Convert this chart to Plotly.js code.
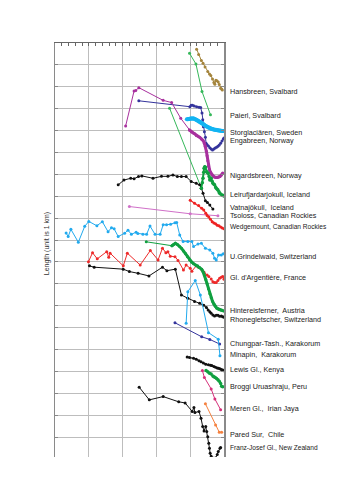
<!DOCTYPE html>
<html>
<head>
<meta charset="utf-8">
<script src="https://cdn.plot.ly/plotly-3.0.1.min.js"></script>
<style>html,body{margin:0;padding:0;background:#fff;}#chart{width:353px;height:500px;}</style>
</head>
<body>
<div id="chart"></div>
<script>
// ---- Data (year, plotted length with stacking offset, unit 1 km) ----
const hansbreenX = [1919,1925,1933,1938,1944,1952,1957,1961,1966,1970,1973,1976,1979,1983,1986,1990,1993,1995];
const hansbreenY = [17.72,17.48,17.2,17.07,16.9,16.7,16.58,16.52,16.35,16.2,16.12,16.3,16.28,16.22,16.1,15.93,15.9,15.85];

const paierlX = [1898,1917,1935,1960];
const paierlY = [17.53,17.04,15.78,14.72];

const storglaX = [1890,1895,1900,1905,1910,1915,1920,1925,1930,1935,1940,1945,1950,1955,1960,1965,1970,1975,1980,1985,1990,1995,2000];
const storglaY = [14.52,14.53,14.55,14.56,14.55,14.52,14.48,14.44,14.39,14.34,14.28,14.22,14.17,14.13,14.10,14.07,14.05,14.03,14.01,14.0,13.99,13.98,13.98];

const engaX = [1748,1899,1903,1907,1912,1919,1926,1931,1935,1937,1939,1942,1945,1947,1950,1954,1958,1962,1966,1970,1974,1978,1982,1986,1990,1994,1998,2000];
const engaY = [15.36,15.09,15.16,15.16,15.12,15.09,15.06,15.05,14.80,14.50,14.18,13.95,13.70,13.42,13.35,13.30,13.22,13.16,13.11,13.16,13.20,13.24,13.28,13.34,13.42,13.52,13.62,13.66];

const nigardsEarlyX = [1709,1734,1739,1748,1820,1845,1872,1898];
const nigardsEarlyY = [14.21,15.81,15.83,15.96,15.38,15.28,14.56,14.03];
const nigardsX = [1898,1903,1908,1913,1918,1923,1928,1933,1938,1942,1945,1948,1950,1952,1954,1957,1960,1964,1968,1972,1976,1980,1984,1988,1992,1996];
const nigardsY = [14.03,13.95,13.90,13.85,13.78,13.74,13.70,13.62,13.55,13.42,13.28,13.05,12.85,12.62,12.38,12.22,12.10,11.98,11.92,11.88,11.86,11.86,11.88,11.90,11.97,12.06];

const leiruEarlyX = [1839,1933];
const leiruEarlyY = [15.02,11.37];
const leiruX = [1933,1936,1938,1940,1941,1943,1945,1948,1950,1953,1956,1958,1960,1962,1965,1967,1970,1972,1975,1977,1980,1982,1985,1987,1990,1994,1997,2000];
const leiruY = [11.37,11.62,11.82,12.10,12.28,12.35,12.32,12.12,12.10,12.05,11.90,11.74,11.80,11.82,11.68,11.59,11.55,11.52,11.42,11.36,11.32,11.29,11.20,11.14,11.10,11.06,11.03,11.01];

const vatnaX = [1687,1704,1724,1734,1747,1757,1790,1815,1834,1849,1862,1874,1888,1903,1918,1928,1933,1938,1945,1951,1958,1967];
const vatnaY = [11.52,11.74,11.82,11.80,11.90,11.93,11.82,11.91,11.91,11.97,11.90,11.90,11.90,11.67,11.59,11.52,11.37,11.14,10.80,10.71,10.60,10.42];

const tsolossX = [1720,1900,1982];
const tsolossY = [10.53,10.20,10.11];

const wedgeX = [1900,1913,1925,1934,1940,1946,1950,1955,1960,1965,1970,1975,1980,1985,1990,1995,2000];
const wedgeY = [10.82,10.68,10.58,10.45,10.37,10.22,10.12,10.05,9.95,9.84,9.78,9.74,9.68,9.65,9.60,9.55,9.51];

const grindelX = [1533,1539,1547,1569,1588,1600,1624,1640,1657,1667,1675,1687,1706,1716,1726,1740,1745,1760,1771,1781,1796,1811,1820,1830,1842,1855,1860,1869,1879,1893,1905,1910,1923,1933,1945,1958,1967,1972,1977,1984,1992,1998];
const grindelY = [9.32,9.16,9.49,8.90,9.63,9.85,9.65,9.84,9.38,9.56,9.51,9.16,9.31,9.45,9.26,9.36,9.30,9.26,9.26,9.64,9.26,9.26,9.70,9.70,9.72,9.79,9.80,9.23,8.93,8.93,8.93,8.70,8.82,8.85,8.62,8.55,8.40,8.17,8.09,8.32,8.32,8.37];

const argentX = [1599,1611,1625,1653,1659,1663,1702,1714,1752,1782,1805,1818,1828,1834,1841,1855,1864,1880,1888,1900,1905,1918,1925,1935,1941,1950,1955,1962,1967,1972,1977,1982,1987,1992,1996,2000];
const argentY = [8.01,8.42,8.14,8.47,8.21,8.40,7.82,8.40,7.86,8.52,8.09,8.63,8.42,8.47,8.26,8.24,8.07,7.63,7.86,7.71,7.58,7.82,7.76,7.63,7.53,7.40,7.33,7.22,7.10,7.06,7.06,7.15,7.26,7.30,7.33,7.21];

const hintEarlyX = [1770,1846];
const hintEarlyY = [8.92,8.74];
const hintX = [1846,1851,1856,1862,1868,1874,1880,1886,1892,1898,1904,1910,1916,1922,1928,1934,1938,1942,1946,1950,1954,1958,1962,1966,1970,1974,1978,1982,1986,1990,1994,2000];
const hintY = [8.74,8.80,8.85,8.80,8.72,8.63,8.50,8.38,8.24,8.10,8.00,7.92,7.86,7.83,7.75,7.67,7.55,7.40,7.20,7.00,6.78,6.55,6.36,6.20,6.08,5.98,5.90,5.86,5.83,5.80,5.79,5.76];

const rhoneX = [1602,1616,1702,1720,1746,1778,1818,1831,1856,1874,1893,1913,1928,1940,1948,1953,1958,1962,1967,1972,1977,1982,1987,1992,1996,2000];
const rhoneY = [7.82,7.76,7.67,7.56,7.48,7.36,7.76,7.60,7.67,6.49,6.34,6.19,6.11,6.02,5.92,5.81,5.72,5.66,5.58,5.53,5.56,5.57,5.52,5.53,5.50,5.47];

const chungX = [1855,1934,1958,1987];
const chungY = [5.22,4.58,4.46,4.25];

const minapinX = [1888,1893,1915,1930,1954,1983,1988];
const minapinY = [5.20,6.64,7.15,6.49,4.77,4.47,3.72];

const lewisX = [1891,1898,1910,1918,1926,1932,1939,1946,1954,1960,1964,1970,1975,1980,1984,1988,1992,1996,2000];
const lewisY = [3.66,3.64,3.60,3.56,3.49,3.44,3.38,3.33,3.30,3.28,3.27,3.22,3.19,3.16,3.14,3.12,3.09,3.06,3.03];

const broggiX = [1947,1952,1957,1962,1967,1970,1974,1978,1982,1986,1990,1993,1996];
const broggiY = [3.04,2.98,2.92,2.88,2.79,2.75,2.72,2.68,2.62,2.55,2.45,2.32,2.30];

const merenX = [1936,1942,1962,1973,1990];
const merenY = [3.04,2.72,2.20,1.74,1.25];

const paredX = [1945,1975,1986,1993];
const paredY = [1.52,0.55,0.22,0.22];

const franzX = [1749,1779,1820,1866,1885,1906,1911,1914,1926,1932,1937,1941,1946,1949,1952,1955,1957,1959,1962,1966,1975,1980,1983,1988,1990];
const franzY = [2.28,1.70,1.85,1.61,1.56,1.17,1.35,1.12,1.17,0.86,0.48,0.28,0.48,0.25,0.02,-0.28,-0.51,-0.74,-0.88,-0.95,-0.95,-0.80,-0.66,-0.51,-0.48];

// ---- Labels ----
const labelTexts = ["Hansbreen, Svalbard","Paierl, Svalbard","Storglaciären, Sweden","Engabreen, Norway","Nigardsbreen, Norway","Leirufjardarjokull, Iceland","Vatnajökull,  Iceland","Tsoloss, Canadian Rockies","Wedgemount, Canadian Rockies","U.Grindelwald, Switzerland","Gl. d'Argentière, France","Hintereisferner,  Austria","Rhonegletscher, Switzerland","Chungpar-Tash., Karakorum","Minapin,  Karakorum","Lewis Gl., Kenya","Broggi Uruashraju, Peru","Meren Gl.,  Irian Jaya","Pared Sur,  Chile","Franz-Josef Gl., New Zealand"];
const labelY = [15.78,14.67,13.92,13.54,11.94,11.07,10.47,10.11,9.58,8.26,7.27,5.79,5.38,4.26,3.79,3.07,2.32,1.32,0.13,-0.49];
const narrowLabels = ["Wedgemount, Canadian Rockies","Franz-Josef Gl., New Zealand"];
const yTitle = "Length (unit is 1 km)";

// ---- Traces ----
function tr(x, y, color, width, msize) {
  return {x: x, y: y, type: 'scatter', mode: 'lines+markers',
    line: {color: color, width: width}, marker: {color: color, size: msize},
    hoverinfo: 'skip', showlegend: false};
}
const GREEN = '#10a040', LGREEN = '#35b85a', LBLUE = '#22aaee', NAVY = '#34349c', BLACK = '#111111';
const traces = [
  tr(hansbreenX, hansbreenY, '#a4843c', 1, 3),
  tr(paierlX, paierlY, LGREEN, 1, 3),
  tr(engaX, engaY, NAVY, 1, 3),
  tr(storglaX, storglaY, '#12b4f2', 4, 4),
  tr(nigardsEarlyX, nigardsEarlyY, '#a8309e', 1, 3),
  tr(nigardsX, nigardsY, '#a8309e', 3, 3),
  tr(leiruEarlyX, leiruEarlyY, LGREEN, 1, 3),
  tr(vatnaX, vatnaY, BLACK, 1, 3),
  tr(leiruX, leiruY, GREEN, 2, 3.5),
  tr(tsolossX, tsolossY, '#d070c8', 1, 3),
  tr(wedgeX, wedgeY, '#ee2222', 1.2, 3),
  tr(grindelX, grindelY, LBLUE, 1, 3),
  tr(argentX, argentY, '#ee2a2a', 1, 3),
  tr(rhoneX, rhoneY, BLACK, 1, 3),
  tr(hintEarlyX, hintEarlyY, GREEN, 1, 3),
  tr(hintX, hintY, GREEN, 3, 3),
  tr(chungX, chungY, NAVY, 1, 3),
  tr(minapinX, minapinY, LBLUE, 1, 3),
  tr(lewisX, lewisY, BLACK, 1.2, 3),
  tr(broggiX, broggiY, GREEN, 1.5, 3.5),
  tr(merenX, merenY, '#d6307a', 1, 3),
  tr(paredX, paredY, '#f5813f', 1, 3),
  tr(franzX, franzY, BLACK, 1, 3),
  {x: [], y: [], xaxis: 'x2', type: 'scatter', mode: 'markers', hoverinfo: 'skip', showlegend: false}
];

const FONT = 'Liberation Sans, Arial, sans-serif';
const annotations = labelTexts.map((t, i) => ({
  text: t, xref: 'paper', yref: 'y', x: 1, y: labelY[i], xshift: 4,
  xanchor: 'left', yanchor: 'middle', showarrow: false,
  font: narrowLabels.includes(t)
    ? {family: 'Liberation Sans Narrow, Liberation Sans, Arial, sans-serif', size: 6.6, color: '#222'}
    : {family: FONT, size: 7.2, color: '#222'}
}));
annotations.push({
  text: yTitle, xref: 'paper', yref: 'paper', x: -0.047, y: 0.514,
  textangle: -90, showarrow: false, xanchor: 'center', yanchor: 'middle',
  font: {family: FONT, size: 7, color: '#333'}
});

const layout = {
  width: 353, height: 500,
  margin: {l: 55, r: 129, t: 43, b: 43, pad: 0},
  paper_bgcolor: '#fff', plot_bgcolor: '#fff',
  showlegend: false,
  xaxis: {range: [1500, 2000], dtick: 100, tick0: 1500, showgrid: true, gridcolor: '#bdbdbd', gridwidth: 1,
    showticklabels: false, ticks: '', showline: false, zeroline: false, fixedrange: true},
  xaxis2: {overlaying: 'x', side: 'top', range: [1500, 2000], dtick: 20, tick0: 1500,
    ticks: 'inside', ticklen: 3, tickcolor: '#666', tickwidth: 1, showline: true, linecolor: '#666', linewidth: 1.5,
    showgrid: false, showticklabels: false, zeroline: false},
  yaxis: {range: [-0.91, 18], dtick: 1, tick0: 0, showgrid: true, gridcolor: '#bdbdbd', gridwidth: 1,
    showticklabels: false, ticks: 'inside', ticklen: 3, tickcolor: '#888', showline: true, linecolor: '#8a8a8a',
    linewidth: 1.5, mirror: 'ticks', zeroline: false, fixedrange: true},
  annotations: annotations,
  font: {family: FONT}
};

Plotly.newPlot('chart', traces, layout, {staticPlot: true, displayModeBar: false});
</script>
</body>
</html>
